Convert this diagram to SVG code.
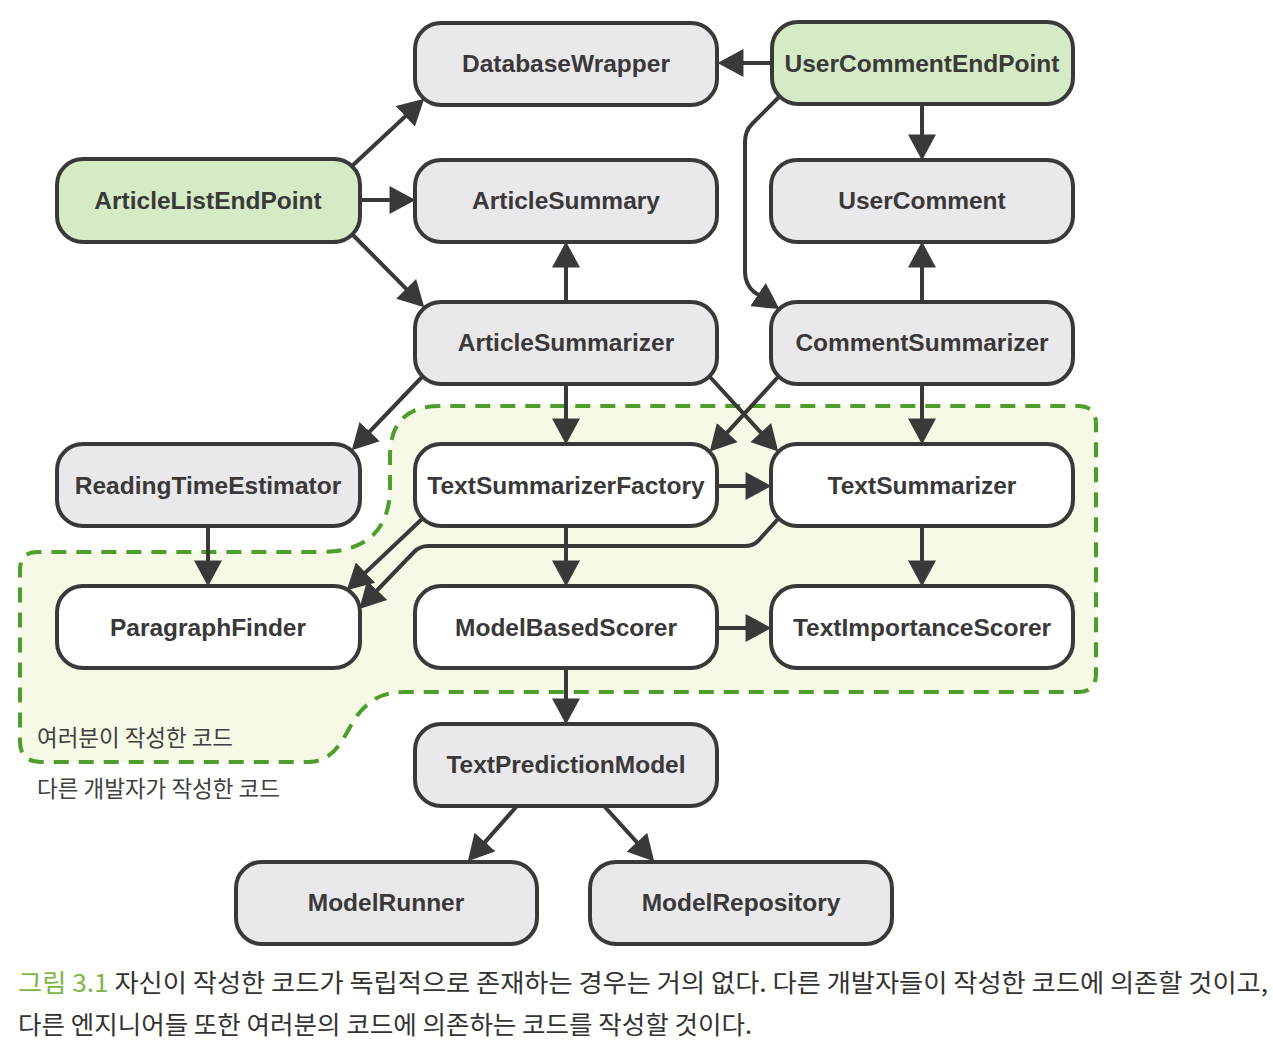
<svg xmlns="http://www.w3.org/2000/svg" width="1273" height="1041" viewBox="0 0 1273 1041">
<defs>
<marker id="ah" markerUnits="userSpaceOnUse" markerWidth="26" markerHeight="28" viewBox="0 0 24 26" refX="19" refY="13" orient="auto">
<path d="M0,0 L24,13 L0,26 z" fill="#3a3838"/>
</marker>
</defs>
<style>
.n rect{stroke:#3a3838;stroke-width:4}
.g rect{fill:#e9e8eb}
.e rect{fill:#d4ebc5}
.w rect{fill:#ffffff}
.n text{font-family:"Liberation Sans",Arial,sans-serif;font-weight:bold;font-size:24.5px;fill:#3a3838;text-anchor:middle}
.c path{fill:none;stroke:#3a3838;stroke-width:4;marker-end:url(#ah)}
.lbl{font-family:"Noto Sans CJK KR",sans-serif;font-size:23px;fill:#404040}
.cap{font-family:"Noto Sans CJK KR",sans-serif;font-size:24.5px;fill:#333333}
</style>
<rect x="0" y="0" width="1273" height="1041" fill="#fefefd"/>
<g id="region">
<path d="M440 406 Q390 406 390 456 L390 490 Q388 552 320 552 L38 552 Q20 552 20 570 L20 742 Q20 762 42 762 L310 762 C340 760 345 730 360 712 C372 698 385 692 405 692 L1078 692 Q1096 692 1096 674 L1096 424 Q1096 406 1078 406 Z" fill="#f5f9e6" stroke="#4f9d2d" stroke-width="4" stroke-dasharray="15 10"/>
<text class="lbl" x="37" y="746" textLength="196" lengthAdjust="spacingAndGlyphs">여러분이 작성한 코드</text>
<text class="lbl" x="37" y="797" textLength="243" lengthAdjust="spacingAndGlyphs">다른 개발자가 작성한 코드</text>
</g>
<g id="connectors" class="c">
<path d="M772 63 L723 63"/>
<path d="M352 166 L420.3 102.4"/>
<path d="M360 200 L410 200"/>
<path d="M352 234 L420.5 303.4"/>
<path d="M566 302 L566 247"/>
<path d="M922 104 L922 155"/>
<path d="M922 302 L922 247"/>
<path d="M780 96 L752 124 Q745 131 745 142 L745 272 Q745 284 754 292 L775 306"/>
<path d="M422 377 L355.5 446.4"/>
<path d="M566 384 L566 439"/>
<path d="M710 377 L774.6 447.6"/>
<path d="M778 377 L713.4 447.6"/>
<path d="M922 384 L922 439"/>
<path d="M717 486 L766 486"/>
<path d="M422 519 L350.6 586.6"/>
<path d="M778 519 L758 541 Q753 546 745 546 L428 546 Q420 546 414 552 L363 605"/>
<path d="M208 526 L208 581"/>
<path d="M566 526 L566 581"/>
<path d="M922 526 L922 581"/>
<path d="M717 628 L766 628"/>
<path d="M566 668 L566 719"/>
<path d="M517 806 L471.4 857.3"/>
<path d="M604 806 L650.6 857.4"/>
</g>
<g id="DatabaseWrapper" class="n g"><rect x="415" y="23" width="302" height="82" rx="26"/><text x="566" y="72">DatabaseWrapper</text></g>
<g id="UserCommentEndPoint" class="n e"><rect x="772" y="22" width="301" height="82" rx="26"/><text x="922" y="72">UserCommentEndPoint</text></g>
<g id="ArticleListEndPoint" class="n e"><rect x="57" y="159" width="303" height="83" rx="26"/><text x="208" y="209">ArticleListEndPoint</text></g>
<g id="ArticleSummary" class="n g"><rect x="415" y="160" width="302" height="82" rx="26"/><text x="566" y="209">ArticleSummary</text></g>
<g id="UserComment" class="n g"><rect x="771" y="160" width="302" height="82" rx="26"/><text x="922" y="209">UserComment</text></g>
<g id="ArticleSummarizer" class="n g"><rect x="415" y="302" width="302" height="82" rx="26"/><text x="566" y="351">ArticleSummarizer</text></g>
<g id="CommentSummarizer" class="n g"><rect x="771" y="302" width="302" height="82" rx="26"/><text x="922" y="351">CommentSummarizer</text></g>
<g id="ReadingTimeEstimator" class="n g"><rect x="57" y="444" width="303" height="82" rx="26"/><text x="208" y="494">ReadingTimeEstimator</text></g>
<g id="TextSummarizerFactory" class="n w"><rect x="415" y="444" width="302" height="82" rx="26"/><text x="566" y="494">TextSummarizerFactory</text></g>
<g id="TextSummarizer" class="n w"><rect x="771" y="444" width="302" height="82" rx="26"/><text x="922" y="494">TextSummarizer</text></g>
<g id="ParagraphFinder" class="n w"><rect x="57" y="586" width="303" height="82" rx="26"/><text x="208" y="636">ParagraphFinder</text></g>
<g id="ModelBasedScorer" class="n w"><rect x="415" y="586" width="302" height="82" rx="26"/><text x="566" y="636">ModelBasedScorer</text></g>
<g id="TextImportanceScorer" class="n w"><rect x="771" y="586" width="302" height="82" rx="26"/><text x="922" y="636">TextImportanceScorer</text></g>
<g id="TextPredictionModel" class="n g"><rect x="415" y="724" width="302" height="82" rx="26"/><text x="566" y="773">TextPredictionModel</text></g>
<g id="ModelRunner" class="n g"><rect x="236" y="862" width="301" height="82" rx="26"/><text x="386" y="911">ModelRunner</text></g>
<g id="ModelRepository" class="n g"><rect x="590" y="862" width="302" height="82" rx="26"/><text x="741" y="911">ModelRepository</text></g>
<g id="caption">
<text class="cap" x="18" y="992" textLength="1250" lengthAdjust="spacingAndGlyphs"><tspan fill="#7db548">그림 3.1</tspan> 자신이 작성한 코드가 독립적으로 존재하는 경우는 거의 없다. 다른 개발자들이 작성한 코드에 의존할 것이고,</text>
<text class="cap" x="18" y="1034" textLength="734" lengthAdjust="spacingAndGlyphs">다른 엔지니어들 또한 여러분의 코드에 의존하는 코드를 작성할 것이다.</text>
</g>
</svg>
